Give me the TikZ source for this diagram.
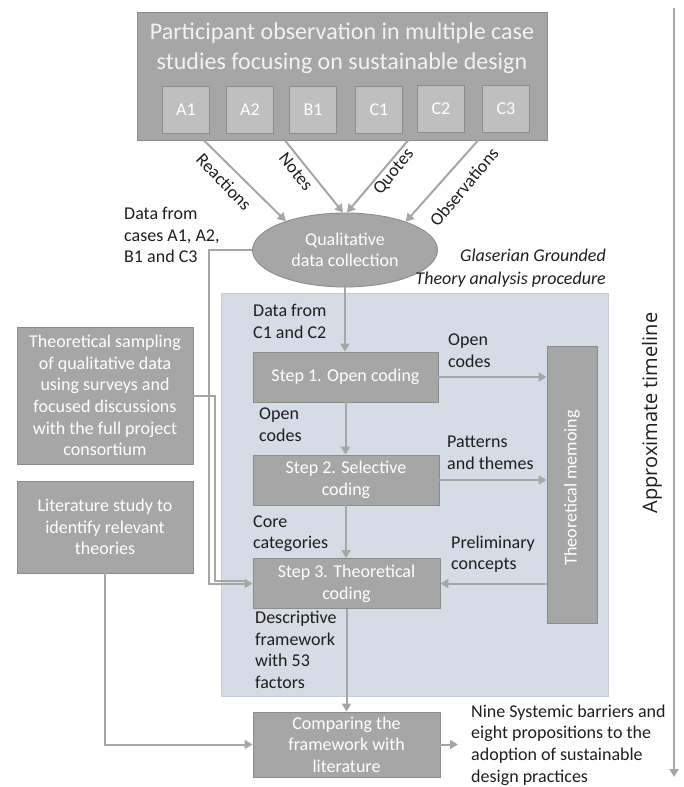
\documentclass[tikz,border=0pt]{standalone}
\usepackage{fontspec}
\setmainfont{Carlito}
\newfontfamily\tlfont{Open Sans}
\usetikzlibrary{arrows.meta,shapes.geometric,calc}

\definecolor{boxgray}{HTML}{A6A6A6}
\definecolor{boxedge}{HTML}{8C8C8C}
\definecolor{casegray}{HTML}{BFBFBF}
\definecolor{linegray}{HTML}{A6A6A6}
\definecolor{panel}{HTML}{D6DCE5}
\definecolor{paneledge}{HTML}{C6CDD9}
\definecolor{ink}{HTML}{1E1E1E}

\begin{document}
\begin{tikzpicture}[x=1pt,y=-1pt,
  body/.style={font=\fontsize{18}{21.6}\selectfont},
  txt/.style={body, text=ink, inner sep=0pt, align=left},
  gbox/.style={body, draw=boxedge, line width=0.9pt, fill=boxgray, text=white,
               align=center, inner sep=0pt},
  casebox/.style={gbox, fill=casegray, minimum width=47pt, minimum height=47pt},
  arr/.style={draw=linegray, line width=2pt, -{Triangle[length=8pt,width=9pt]}},
  conn/.style={draw=linegray, line width=2pt},
]
\useasboundingbox (0,0) rectangle (683,787);

% background panel of the grounded theory procedure
\filldraw[fill=panel, draw=paneledge, line width=0.8pt] (221,293) rectangle (608,696);

% case study block
\node[gbox, minimum width=410pt, minimum height=128pt] (top) at (342,76) {};
\node[font=\fontsize{24}{30}\selectfont, text=white!95!black, align=center, inner sep=0pt]
  (title) at (342,48) {Participant observation in multiple case\\studies focusing on sustainable design};
\node[casebox] (a1) at (186,110) {A1};
\node[casebox] (a2) at (250,110) {A2};
\node[casebox] (b1) at (313,110) {B1};
\node[casebox] (c1) at (379,110) {C1};
\node[casebox] (c2) at (441,109) {C2};
\node[casebox] (c3) at (506,109) {C3};

% data collection
\node[ellipse, gbox, minimum width=185pt, minimum height=74pt] (qual) at (345,250)
  {Qualitative\\data collection};

\draw[arr] ([xshift=-138pt]top.south) -- (qual.154);
\draw[arr] ([xshift=-57pt]top.south) -- (qual.93);
\draw[arr] ([xshift=66pt]top.south) -- (qual.87);
\draw[arr] ([xshift=136pt]top.south) -- (qual.25);
\node[txt, rotate=-46.5] (lreact) at (224,182) {Reactions};
\node[txt, rotate=-51.5] (lnotes) at (296,172) {Notes};
\node[txt, rotate=50.5] (lquotes) at (394,172) {Quotes};
\node[txt, rotate=50] (lobs) at (464,187) {Observations};

\node[txt, anchor=west] (dataA) at (124,235) {Data from\\cases A1, A2,\\B1 and C3};
\node[txt, anchor=east, align=right, font=\fontsize{18}{23}\selectfont\itshape] (glas)
  at (606,268.5) {Glaserian Grounded\\Theory analysis procedure};

% coding steps
\node[gbox, minimum width=185pt, minimum height=50pt] (s1) at (345.5,377) {Step 1. Open coding};
\node[gbox, minimum width=186pt, minimum height=50pt] (s2) at (346,480) {Step 2. Selective\\coding};
\node[gbox, minimum width=187pt, minimum height=50pt] (s3) at (346.5,583.5) {Step 3. Theoretical\\coding};
\node[gbox, minimum width=187pt, minimum height=65pt] (cmp) at (346.5,744.5)
  {Comparing the\\framework with\\literature};
\node[gbox, minimum width=50pt, minimum height=277pt] (memo) at (572,484.5) {};
\node[body, rotate=90, text=white, inner sep=0pt] (memotxt) at (572,488) {Theoretical memoing};

% side inputs
\node[gbox, minimum width=176pt, minimum height=137pt] (samp) at (105,395.5)
  {Theoretical sampling\\of qualitative data\\using surveys and\\focused discussions\\with the full project\\consortium};
\node[gbox, minimum width=176pt, minimum height=92pt] (lit) at (105,527)
  {Literature study to\\identify relevant\\theories};

% labels inside the panel
\node[txt, anchor=west] (dataC) at (253,321.5) {Data from\\C1 and C2};
\node[txt, anchor=west] (lopen1) at (259,425) {Open\\codes};
\node[txt, anchor=west] (lcore) at (253,533.5) {Core\\categories};
\node[txt, anchor=west] (ldesc) at (255,650) {Descriptive\\framework\\with 53\\factors};
\node[txt, anchor=west] (lopen2) at (448,351) {Open\\codes};
\node[txt, anchor=west] (lpat) at (447,452.5) {Patterns\\and themes};
\node[txt, anchor=west] (lpre) at (451,554) {Preliminary\\concepts};
\node[txt, anchor=west] (out) at (471,745)
  {Nine Systemic barriers and\\eight propositions to the\\adoption of sustainable\\design practices};

% main flow
\draw[arr] (qual.south) -- (qual.south |- s1.north);
\draw[arr] (s1.south) -- (s1.south |- s2.north);
\draw[arr] (s2.south) -- (s2.south |- s3.north);
\draw[arr] (s3.south) -- (s3.south |- cmp.north);
\draw[arr] (s1.east) -- (s1.east -| memo.west);
\draw[arr] (s2.east) -- (s2.east -| memo.west);
\draw[arr] (memo.west |- s3.east) -- (s3.east);
\coordinate (outtip) at ([xshift=-13pt]out.west);
\draw[arr] (cmp.east) -- (cmp.east -| outtip);

% feeds from the left
\coordinate (feedA) at (209,0);
\coordinate (feedB) at (215,0);
\coordinate (s3in) at ([yshift=2.5pt]s3.west);
\draw[arr] (qual.west) -| (feedA |- s3.west) -- (s3.west);
\draw[conn] (samp.east) -| (feedB |- s3in) -- ([xshift=-8pt]s3in);
\draw[arr] (lit.south) |- (cmp.west);

% timeline
\coordinate (tl0) at (674,8);
\coordinate (tl1) at (674,777);
\draw[arr, line width=1.8pt] (tl0) -- (tl1);
\node[rotate=90, font=\tlfont\fontsize{20}{24}\selectfont, text=ink, inner sep=0pt] (tl) at (652,413)
  {Approximate timeline};
\end{tikzpicture}
\end{document}
